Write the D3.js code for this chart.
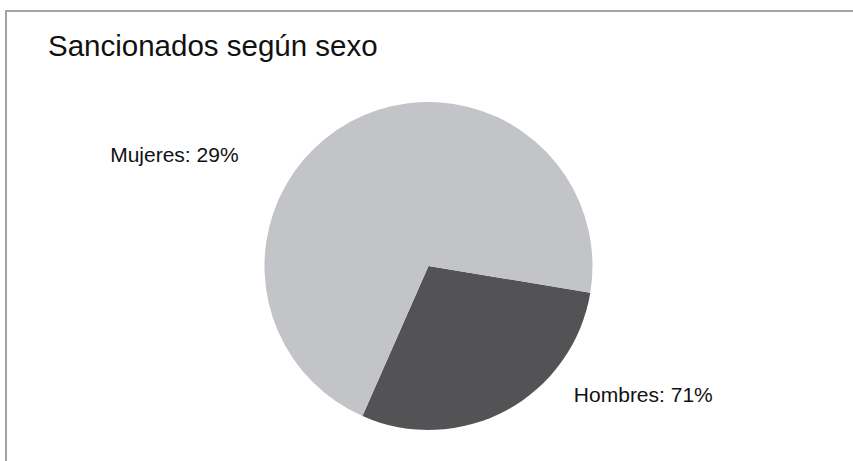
<!DOCTYPE html>
<html>
<head>
<meta charset="utf-8">
<script src="https://cdn.jsdelivr.net/npm/d3@7"></script>
<style>
  html, body { margin: 0; padding: 0; background: #ffffff; }
  svg { display: block; font-family: "Liberation Sans", Arial, Helvetica, sans-serif; }
</style>
</head>
<body>
<svg id="chart" width="853" height="461"></svg>
<script>
// Sanctioned people by sex (percent)
const categories = ["Mujeres", "Hombres"];
const values = [29, 71];
const colors = ["#535355", "#c3c4c8"];
const title = "Sancionados según sexo";

const width = 853, height = 461;
const cx = 428.5, cy = 266, radius = 164;
// the first wedge begins just below the 3 o'clock position
const startAngle = 99.35 * Math.PI / 180;

const svg = d3.select("#chart");

// panel frame
svg.append("rect")
  .attr("x", 6).attr("y", 11)
  .attr("width", width + 20).attr("height", height + 20)
  .attr("fill", "none")
  .attr("stroke", "#a3a3a3")
  .attr("stroke-width", 2);

svg.append("text")
  .attr("x", 48).attr("y", 56)
  .attr("font-size", 29.5)
  .attr("fill", "#111")
  .text(title);

const data = categories.map((c, i) => ({ category: c, value: values[i], color: colors[i] }));

const pie = d3.pie()
  .sort(null)
  .value(d => d.value)
  .startAngle(startAngle)
  .endAngle(startAngle + 2 * Math.PI);

const arc = d3.arc().innerRadius(0).outerRadius(radius);

const g = svg.append("g").attr("transform", `translate(${cx},${cy})`);

g.selectAll("path")
  .data(pie(data))
  .join("path")
  .attr("d", arc)
  .attr("fill", d => d.data.color);

// label placement around the pie (angle clockwise from 12 o'clock, distance from centre)
const labelLayout = {
  "Mujeres": { angle: 300.3, dist: 220, anchor: "end", dy: 7 },
  "Hombres": { angle: 131.6, dist: 194.4, anchor: "start", dy: 7 }
};

const total = d3.sum(values);
g.selectAll("text.label")
  .data(data)
  .join("text")
  .attr("class", "label")
  .each(function (d) {
    const L = labelLayout[d.category];
    const a = L.angle * Math.PI / 180;
    d3.select(this)
      .attr("x", L.dist * Math.sin(a))
      .attr("y", -L.dist * Math.cos(a) + L.dy)
      .attr("text-anchor", L.anchor);
  })
  .attr("font-size", 21)
  .attr("fill", "#111")
  .text(d => `${d.category}: ${Math.round(d.value / total * 100)}%`);
</script>
</body>
</html>
